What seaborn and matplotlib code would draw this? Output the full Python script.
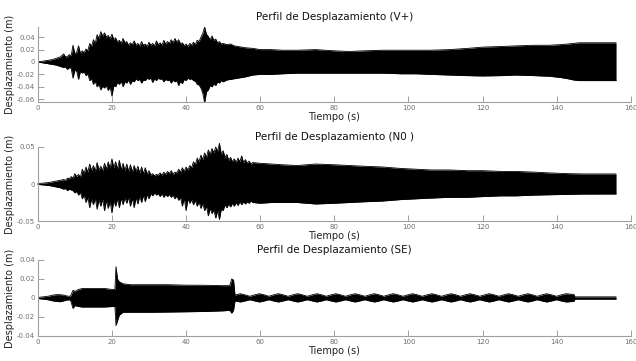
import numpy as np
import pandas as pd
import matplotlib
matplotlib.use("Agg")
import matplotlib.pyplot as plt
import seaborn as sns

# ---------------- data (upper / lower envelope of displacement) ----------
titles = ["Perfil de Desplazamiento (V+)", "Perfil de Desplazamiento (N0 )", "Perfil de Desplazamiento (SE)"]

t_v = [0, 1, 2, 3, 4, 5, 6, 7, 7.5, 8,
       8.5, 9, 9.5, 10, 10.5, 11, 11.5, 12, 12.5, 13,
       13.5, 14, 14.5, 15, 15.5, 16, 16.5, 17, 17.5, 18,
       18.5, 19, 19.5, 20, 20.5, 21, 21.5, 22, 22.5, 23,
       23.5, 24, 24.5, 25, 25.5, 26, 26.5, 27, 27.5, 28,
       28.5, 29, 29.5, 30, 30.5, 31, 31.5, 32, 32.5, 33,
       33.5, 34, 34.5, 35, 35.5, 36, 36.5, 37, 37.5, 38,
       38.5, 39, 39.5, 40, 40.5, 41, 41.5, 42, 42.5, 43,
       43.5, 44, 44.5, 45, 45.5, 46, 46.5, 47, 47.5, 48,
       48.5, 49, 49.5, 50, 51, 52, 53, 54, 55, 56,
       58, 60, 63, 66, 70, 75, 80, 84, 88, 93,
       98, 102, 106, 111, 116, 120, 125, 129, 134, 138,
       141, 143, 144.5, 146, 150, 153, 156]
up_v = [0.0005, 0.001, 0.002, 0.003, 0.004, 0.006, 0.008, 0.013, 0.008, 0.009,
        0.012, 0.010, 0.027, 0.013, 0.016, 0.026, 0.014, 0.018, 0.015, 0.021,
        0.018, 0.030, 0.025, 0.036, 0.030, 0.044, 0.038, 0.049, 0.042, 0.047,
        0.040, 0.043, 0.037, 0.045, 0.036, 0.039, 0.032, 0.035, 0.030, 0.038,
        0.031, 0.033, 0.027, 0.031, 0.028, 0.034, 0.027, 0.030, 0.026, 0.033,
        0.027, 0.029, 0.025, 0.032, 0.027, 0.030, 0.026, 0.034, 0.028, 0.031,
        0.027, 0.035, 0.029, 0.033, 0.030, 0.036, 0.031, 0.038, 0.032, 0.036,
        0.029, 0.031, 0.026, 0.029, 0.025, 0.030, 0.027, 0.032, 0.028, 0.035,
        0.033, 0.040, 0.046, 0.056, 0.045, 0.041, 0.036, 0.042, 0.035, 0.037,
        0.031, 0.033, 0.029, 0.030, 0.028, 0.029, 0.026, 0.025, 0.024, 0.023,
        0.022, 0.020, 0.020, 0.019, 0.019, 0.020, 0.018, 0.017, 0.018, 0.019,
        0.019, 0.019, 0.019, 0.020, 0.022, 0.024, 0.025, 0.026, 0.027, 0.027,
        0.028, 0.029, 0.030, 0.031, 0.031, 0.031, 0.031]
lo_v = [-0.0005, -0.001, -0.002, -0.003, -0.004, -0.005, -0.007, -0.009, -0.008, -0.012,
        -0.009, -0.010, -0.026, -0.013, -0.015, -0.028, -0.015, -0.018, -0.016, -0.022,
        -0.019, -0.030, -0.027, -0.036, -0.031, -0.040, -0.036, -0.045, -0.039, -0.042,
        -0.038, -0.046, -0.040, -0.055, -0.038, -0.040, -0.033, -0.036, -0.031, -0.040,
        -0.032, -0.034, -0.029, -0.036, -0.030, -0.032, -0.027, -0.030, -0.028, -0.034,
        -0.029, -0.030, -0.026, -0.028, -0.026, -0.033, -0.027, -0.030, -0.026, -0.028,
        -0.027, -0.032, -0.028, -0.030, -0.029, -0.034, -0.029, -0.032, -0.030, -0.038,
        -0.031, -0.035, -0.028, -0.030, -0.026, -0.028, -0.027, -0.030, -0.031, -0.036,
        -0.037, -0.042, -0.050, -0.066, -0.048, -0.045, -0.038, -0.040, -0.035, -0.038,
        -0.032, -0.034, -0.030, -0.032, -0.029, -0.028, -0.027, -0.026, -0.025, -0.024,
        -0.021, -0.020, -0.020, -0.019, -0.018, -0.018, -0.018, -0.018, -0.018, -0.018,
        -0.019, -0.019, -0.020, -0.021, -0.022, -0.0225, -0.022, -0.021, -0.022, -0.023,
        -0.025, -0.027, -0.029, -0.030, -0.030, -0.030, -0.030]

t_n = [0, 1, 2, 3, 4, 5, 6, 7, 7.5, 8,
       8.5, 9, 9.5, 10, 10.5, 11, 11.5, 12, 12.5, 13,
       13.5, 14, 14.5, 15, 15.5, 16, 16.5, 17, 17.5, 18,
       18.5, 19, 19.5, 20, 20.5, 21, 21.5, 22, 22.5, 23,
       23.5, 24, 24.5, 25, 25.5, 26, 26.5, 27, 27.5, 28,
       28.5, 29, 29.5, 30, 30.5, 31, 31.5, 32, 32.5, 33,
       33.5, 34, 34.5, 35, 35.5, 36, 36.5, 37, 37.5, 38,
       38.5, 39, 39.5, 40, 40.5, 41, 41.5, 42, 42.5, 43,
       43.5, 44, 44.5, 45, 45.5, 46, 46.5, 47, 47.5, 48,
       48.5, 49, 49.5, 50, 50.5, 51, 51.5, 52, 52.5, 53,
       53.5, 54, 54.5, 55, 55.5, 56, 56.5, 57, 57.5, 58,
       60, 63, 66, 70, 75, 80, 84, 88, 93, 98,
       102, 106, 111, 116, 120, 125, 129, 134, 138, 143,
       147, 152, 156]
up_n = [0.0005, 0.001, 0.0015, 0.002, 0.003, 0.004, 0.005, 0.006, 0.005, 0.008,
        0.007, 0.010, 0.008, 0.014, 0.010, 0.013, 0.009, 0.020, 0.014, 0.023,
        0.016, 0.027, 0.018, 0.025, 0.017, 0.029, 0.019, 0.024, 0.018, 0.028,
        0.020, 0.030, 0.021, 0.034, 0.022, 0.030, 0.020, 0.032, 0.019, 0.028,
        0.018, 0.027, 0.017, 0.026, 0.016, 0.025, 0.017, 0.024, 0.015, 0.023,
        0.014, 0.022, 0.013, 0.018, 0.012, 0.014, 0.011, 0.013, 0.012, 0.015,
        0.012, 0.016, 0.013, 0.017, 0.014, 0.018, 0.013, 0.016, 0.015, 0.020,
        0.016, 0.022, 0.017, 0.023, 0.019, 0.025, 0.022, 0.030, 0.026, 0.035,
        0.030, 0.039, 0.033, 0.042, 0.036, 0.046, 0.040, 0.048, 0.042, 0.050,
        0.044, 0.055, 0.040, 0.045, 0.036, 0.040, 0.032, 0.036, 0.030, 0.034,
        0.029, 0.035, 0.030, 0.038, 0.029, 0.033, 0.028, 0.031, 0.027, 0.029,
        0.028, 0.027, 0.026, 0.025, 0.027, 0.026, 0.025, 0.024, 0.023, 0.021,
        0.020, 0.019, 0.019, 0.018, 0.018, 0.017, 0.017, 0.016, 0.015, 0.014,
        0.0136, 0.0136, 0.0136]
lo_n = [-0.0005, -0.001, -0.0015, -0.002, -0.003, -0.004, -0.005, -0.007, -0.006, -0.009,
        -0.007, -0.008, -0.009, -0.012, -0.010, -0.015, -0.011, -0.020, -0.015, -0.025,
        -0.018, -0.032, -0.020, -0.028, -0.019, -0.034, -0.021, -0.030, -0.020, -0.036,
        -0.022, -0.033, -0.023, -0.039, -0.022, -0.030, -0.020, -0.032, -0.019, -0.028,
        -0.018, -0.026, -0.018, -0.030, -0.019, -0.032, -0.018, -0.027, -0.016, -0.025,
        -0.015, -0.024, -0.014, -0.020, -0.013, -0.016, -0.012, -0.015, -0.013, -0.017,
        -0.013, -0.018, -0.014, -0.017, -0.014, -0.018, -0.015, -0.020, -0.016, -0.022,
        -0.018, -0.030, -0.019, -0.036, -0.020, -0.026, -0.021, -0.028, -0.022, -0.030,
        -0.024, -0.033, -0.026, -0.036, -0.030, -0.043, -0.033, -0.040, -0.035, -0.046,
        -0.036, -0.048, -0.034, -0.036, -0.028, -0.032, -0.027, -0.031, -0.026, -0.030,
        -0.025, -0.029, -0.024, -0.028, -0.024, -0.027, -0.024, -0.026, -0.023, -0.025,
        -0.026, -0.025, -0.025, -0.025, -0.027, -0.026, -0.025, -0.024, -0.023, -0.021,
        -0.020, -0.019, -0.018, -0.018, -0.017, -0.016, -0.016, -0.015, -0.0145, -0.014,
        -0.0136, -0.0135, -0.0135]

t_s = [0, 1, 2, 3, 4, 5, 6, 7, 8, 8.8,
       9.5, 10, 11, 12, 14, 16, 18, 20, 20.8, 21.1,
       21.5, 22, 23, 25, 28, 31, 35, 40, 45, 50,
       51.8, 52.3, 52.8, 53.2, 54.6, 55.9, 57.2, 58.5, 59.8, 61.1,
       62.3, 63.6, 64.9, 66.2, 67.5, 68.8, 70.1, 71.4, 72.7, 74.0,
       75.3, 76.6, 77.8, 79.1, 80.4, 81.7, 83.0, 84.3, 85.6, 86.9,
       88.2, 89.5, 90.8, 92.1, 93.3, 94.6, 95.9, 97.2, 98.5, 99.8,
       101.1, 102.4, 103.7, 105.0, 106.3, 107.6, 108.9, 110.2, 111.5, 112.8,
       114.0, 115.3, 116.6, 117.9, 119.2, 120.5, 121.8, 123.1, 124.4, 125.7,
       127.0, 128.3, 129.6, 130.9, 132.2, 133.5, 134.7, 136.0, 137.3, 138.6,
       139.9, 141.2, 142.5, 143.8, 144.6, 144.9, 156]
up_s = [0.0005, 0.001, 0.0015, 0.002, 0.003, 0.0035, 0.0035, 0.003, 0.002, 0.0018,
        0.008, 0.007, 0.009, 0.010, 0.010, 0.010, 0.010, 0.009, 0.009, 0.033,
        0.020, 0.017, 0.015, 0.014, 0.014, 0.014, 0.014, 0.0135, 0.0134, 0.013,
        0.013, 0.020, 0.019, 0.003, 0.0045, 0.0033, 0.0018, 0.0033, 0.0045, 0.0033,
        0.0018, 0.0033, 0.0045, 0.0033, 0.0018, 0.0033, 0.0045, 0.0033, 0.0018, 0.0033,
        0.0045, 0.0033, 0.0018, 0.0033, 0.0045, 0.0033, 0.0018, 0.0033, 0.0045, 0.0033,
        0.0018, 0.0033, 0.0045, 0.0033, 0.0018, 0.0033, 0.0045, 0.0033, 0.0018, 0.0033,
        0.0045, 0.0033, 0.0018, 0.0033, 0.0045, 0.0033, 0.0018, 0.0033, 0.0045, 0.0033,
        0.0018, 0.0033, 0.0045, 0.0033, 0.0018, 0.0033, 0.0045, 0.0033, 0.0018, 0.0033,
        0.0045, 0.0033, 0.0018, 0.0033, 0.0045, 0.0033, 0.0018, 0.0033, 0.0045, 0.0033,
        0.0018, 0.0033, 0.0045, 0.0040, 0.0038, 0.0012, 0.0012]
lo_s = [-0.0005, -0.001, -0.0015, -0.002, -0.003, -0.0035, -0.004, -0.003, -0.002, -0.002,
        -0.011, -0.008, -0.009, -0.0095, -0.0095, -0.0095, -0.0095, -0.009, -0.009, -0.029,
        -0.024, -0.018, -0.015, -0.015, -0.015, -0.015, -0.0148, -0.0145, -0.0142, -0.0135,
        -0.013, -0.016, -0.013, -0.003, -0.0042, -0.0031, -0.0018, -0.0031, -0.0042, -0.0031,
        -0.0018, -0.0031, -0.0042, -0.0031, -0.0018, -0.0031, -0.0042, -0.0031, -0.0018, -0.0031,
        -0.0042, -0.0031, -0.0018, -0.0031, -0.0042, -0.0031, -0.0018, -0.0031, -0.0042, -0.0031,
        -0.0018, -0.0031, -0.0042, -0.0031, -0.0018, -0.0031, -0.0042, -0.0031, -0.0018, -0.0031,
        -0.0042, -0.0031, -0.0018, -0.0031, -0.0042, -0.0031, -0.0018, -0.0031, -0.0042, -0.0031,
        -0.0018, -0.0031, -0.0042, -0.0031, -0.0018, -0.0031, -0.0042, -0.0031, -0.0018, -0.0031,
        -0.0042, -0.0031, -0.0018, -0.0031, -0.0042, -0.0031, -0.0018, -0.0031, -0.0042, -0.0031,
        -0.0018, -0.0031, -0.0042, -0.0038, -0.0036, -0.0012, -0.0012]

x_ticks = [0, 20, 40, 60, 80, 100, 120, 140, 160]
y_ticks = [[-0.06, -0.04, -0.02, 0, 0.02, 0.04], [-0.05, 0, 0.05], [-0.04, -0.02, 0, 0.02, 0.04]]
y_ticklabels = [["-0.06", "-0.04", "-0.02", "0", "0.02", "0.04"], ["-0.05", "0", "0.05"],
                ["-0.04", "-0.02", "0", "0.02", "0.04"]]
y_lims = [(-0.0645, 0.0565), (-0.05, 0.05), (-0.04, 0.04)]

# ---------------- figure ----------------
sns.set_style("ticks")
plt.rcParams["font.family"] = ["DejaVu Sans"]

fig = plt.figure(figsize=(6.36, 3.61), dpi=100)
boxes = [(0.0594, 0.7175, 0.9326, 0.2078), (0.0594, 0.3878, 0.9326, 0.2050),
         (0.0594, 0.0693, 0.9326, 0.2105)]
series = [(t_v, up_v, lo_v), (t_n, up_n, lo_n), (t_s, up_s, lo_s)]
spine_col = "#a0a0a0"
tick_col = "#707070"

for i, (box, (t, up, lo)) in enumerate(zip(boxes, series)):
    n = min(len(t), len(up), len(lo))
    t, up, lo = t[:n], up[:n], lo[:n]
    ax = fig.add_axes(box)
    df = pd.DataFrame({"t": t + t, "d": up + lo,
                       "side": ["up"] * n + ["lo"] * n})
    sns.lineplot(data=df, x="t", y="d", units="side", estimator=None, color="black",
                 linewidth=0.6, ax=ax, clip_on=(i != 1))
    ax.fill_between(t, lo, up, color="black", linewidth=0, clip_on=(i != 1))
    ax.set_xlim(0, 160)
    ax.set_ylim(*y_lims[i])
    ax.set_xticks(x_ticks)
    ax.set_xticklabels([str(v) for v in x_ticks])
    ax.set_yticks(y_ticks[i])
    ax.set_yticklabels(y_ticklabels[i])
    ax.tick_params(direction="in", length=4, width=0.7, colors=spine_col, labelcolor=tick_col,
                   labelsize=5, pad=2)
    for s in ["top", "right"]:
        ax.spines[s].set_visible(False)
    for s in ["left", "bottom"]:
        ax.spines[s].set_color(spine_col)
        ax.spines[s].set_linewidth(0.8)
    ax.set_xlabel("Tiempo (s)", fontsize=7, labelpad=1, color="#222222")
    ax.set_ylabel("Desplazamiento (m)", fontsize=7, labelpad=1, color="#222222")
    ax.set_title(titles[i], fontsize=7.5, pad=5, color="#111111")

fig.savefig("out.png", dpi=100)
